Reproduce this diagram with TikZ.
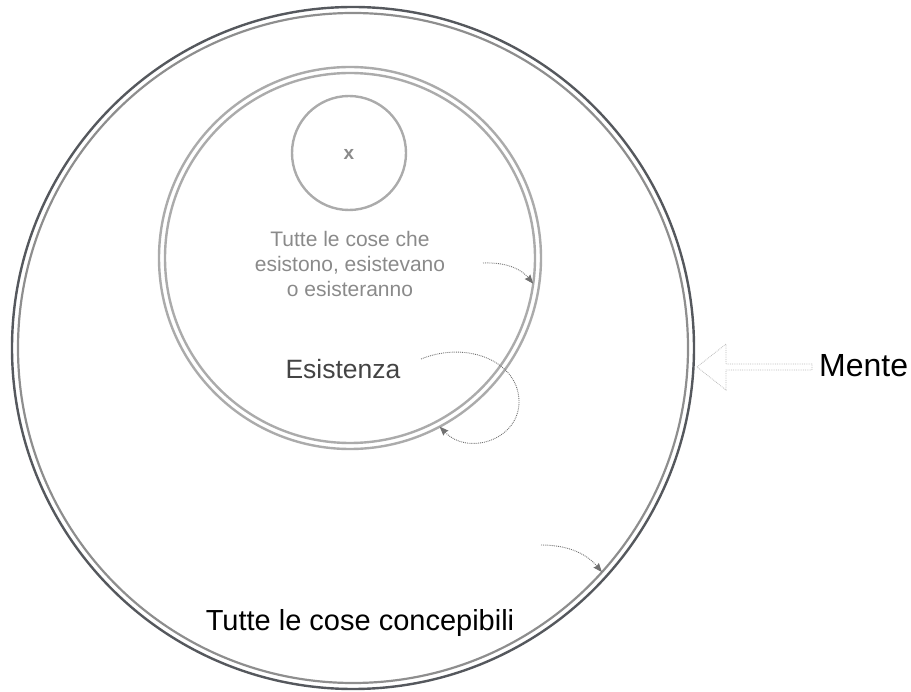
\documentclass[tikz,border=0pt]{standalone}
\usepackage{fontspec}
\setmainfont{Liberation Sans}
\usetikzlibrary{arrows.meta}

\definecolor{ringdark}{HTML}{55585D}
\definecolor{ringlight}{HTML}{8E8E8E}
\definecolor{ringpale}{HTML}{ABABAB}
\definecolor{textgray}{HTML}{8A8A8A}
\definecolor{labelgray}{HTML}{444444}
\definecolor{dotgray}{HTML}{707070}
\definecolor{hollowgray}{HTML}{BBBBBB}

\begin{document}
\begin{tikzpicture}[x=1pt, y=-1pt,
  ring/.style={circle, draw, inner sep=0pt, outer sep=0pt},
  dotarrow/.style={densely dotted, line width=0.9pt, draw=dotgray,
    -{Stealth[length=9pt, width=7pt, inset=1pt, fill=dotgray]}},
  hollowarrow/.style={densely dotted, line width=0.8pt, draw=hollowgray}]
\useasboundingbox (0,0) rectangle (911,692);

% Mente: the big double ring
\node[ring, draw=ringdark, line width=2.4pt, minimum size=682pt] (mente) at (353,348) {};
\node[ring, draw=ringlight, line width=2.2pt, minimum size=670pt] (menteinner) at (353,348) {};

% Esistenza: the middle double ring
\node[ring, draw=ringpale, line width=2.4pt, minimum size=382pt] (esist) at (350,258) {};
\node[ring, draw=ringpale, line width=2.4pt, minimum size=370pt] (esistinner) at (350,258) {};

% the small ring with x
\node[ring, draw=ringpale, line width=2.4pt, minimum size=114pt] (cosa) at (349,153) {};
\node[text=textgray, font=\bfseries\fontsize{19}{22}\selectfont] (xlabel) at (349,154) {x};

% labels
\node[align=center, text=textgray, font=\fontsize{21}{25}\selectfont] (tutteesist) at (350,264)
  {Tutte le cose che\\esistono, esistevano\\o esisteranno};
\node[anchor=base, inner sep=0pt, text=labelgray, font=\fontsize{26.5}{30}\selectfont] (esistenza) at (343,379) {Esistenza};
\node[anchor=base, inner sep=0pt, font=\fontsize{29}{34}\selectfont] (concepibili) at (360,630) {Tutte le cose concepibili};
\node[anchor=base west, inner sep=0pt, font=\fontsize{32}{38}\selectfont] (mentelabel) at (819,377) {Mente};

% dotted arrows
\coordinate (fromtutte) at (483,263);
\draw[dotarrow] (fromtutte) .. controls (508,262) and (522,270) .. (esistinner.-8);
\coordinate (fromesist) at (421,359);
\draw[dotarrow] (fromesist) .. controls (468,340) and (520,362) .. (519,403)
  .. controls (518,440) and (468,456) .. (esist.-62);
\coordinate (fromconc) at (541,545);
\draw[dotarrow] (fromconc) .. controls (565,545) and (585,552) .. (menteinner.-42);

% hollow arrow from Mente
\coordinate (mtip) at (697,367);
\draw[hollowarrow] (812,364) -- (726,364) -- (726,344) -- (mtip) -- (726,390) -- (726,370) -- (812,370) -- cycle;
\end{tikzpicture}
\end{document}
